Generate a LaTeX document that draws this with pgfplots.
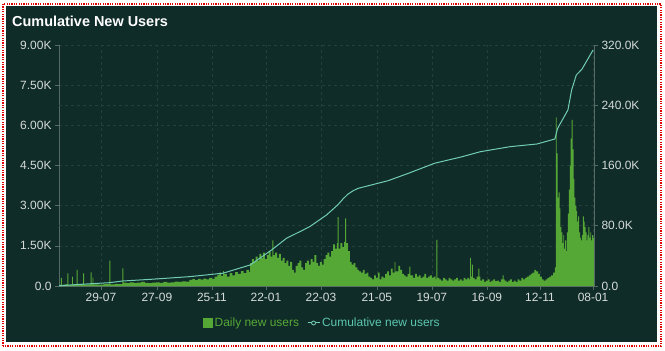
\documentclass[border=0pt]{standalone}
\usepackage{pgfplots}
\pgfplotsset{compat=1.18}
\usepackage{pgfplotstable}
\usepackage{fontspec}
\setmainfont{Liberation Sans}
\definecolor{bgcol}{HTML}{102C28}
\definecolor{barcol}{HTML}{56A836}
\definecolor{linecol}{HTML}{72CDB5}
\definecolor{legtxt}{HTML}{5CC6B0}
\definecolor{tickcol}{HTML}{D5DBD9}
\definecolor{gridcol}{HTML}{264039}
\definecolor{axcol}{HTML}{566A66}
\definecolor{bordercol}{HTML}{E00000}

\pgfplotstableread{
day users
0 40
2 300
3 40
6 60
9 470
10 40
14 350
15 50
19 600
20 50
23 70
26 470
27 50
30 60
34 510
35 60
36 310
37 60
42 50
48 70
54 950
55 60
60 80
64 70
68 660
69 130
72 110
76 140
80 120
84 130
88 150
92 120
96 110
100 130
104 140
108 120
112 150
116 130
120 140
124 160
128 150
132 170
136 160
140 230
143 260
146 220
149 270
152 240
155 280
158 250
161 300
164 270
167 350
170 420
172 500
174 380
176 560
177 450
180 350
183 480
186 400
189 520
192 450
195 560
198 480
201 600
204 520
205 850
207 1000
209 900
211 1100
213 950
215 1200
217 1050
219 1250
221 1000
223 1150
225 1300
227 1100
229 1700
230 1150
232 1250
234 1050
236 1200
238 950
240 1050
242 850
244 950
246 750
248 900
250 600
252 500
254 750
256 850
258 950
260 700
262 600
264 850
266 950
268 800
270 1000
272 900
274 1150
276 850
278 750
280 900
282 800
284 1000
286 1150
288 1250
290 1100
292 1300
294 1550
296 1400
298 1600
299 2570
300 1400
302 1600
304 1450
306 1650
307 2530
308 1600
310 1300
312 900
314 800
316 850
318 700
320 600
322 550
324 500
326 600
328 450
330 500
332 350
334 300
336 250
338 400
340 300
342 500
344 250
346 350
348 300
350 450
352 550
354 400
356 650
358 500
360 900
361 550
364 750
366 600
368 450
370 400
372 350
374 450
376 720
377 400
380 300
382 450
384 350
386 400
388 300
390 350
392 450
394 300
396 350
398 400
400 300
402 350
404 250
405 1720
406 300
408 250
410 200
412 300
414 250
416 200
418 300
420 250
422 200
424 250
426 300
428 200
430 250
432 200
434 300
436 250
438 300
440 250
441 1050
442 350
443 800
444 300
446 250
448 350
450 650
451 350
452 200
454 250
456 150
458 200
460 250
462 150
464 200
466 250
468 180
470 200
472 150
474 250
476 400
477 250
478 200
480 150
482 200
484 250
486 150
488 200
490 150
492 250
494 200
496 300
498 250
500 300
502 350
504 400
506 450
508 500
510 600
512 550
514 450
516 350
518 250
520 200
522 250
524 300
526 350
528 400
530 500
532 700
533 6300
534 4950
535 3300
536 3500
537 2900
538 2200
539 2000
540 1600
541 1900
542 1400
543 1700
544 1300
545 2000
546 2700
547 3600
548 4500
549 5500
550 6200
551 5100
552 4000
553 3300
554 3000
555 2800
556 2400
557 2600
558 2000
559 1800
560 1700
561 1900
562 2600
563 2400
564 2200
565 2000
566 1700
567 1900
568 2200
569 1800
570 2000
571 1700
572 1900
573 1800
574 1800
}\dailytable

\pgfplotstableread{
day total
0 300
20 2000
54 4400
68 6600
100 9000
140 12400
176 17000
205 27900
228 47800
244 63300
262 74400
269 78800
287 94300
299 107600
305 116000
310 122000
316 126800
321 129700
353 139800
375 149700
403 163000
432 171500
452 178300
484 185000
513 188600
532 195200
535 209400
541 222700
546 233700
550 260300
555 280200
561 287800
573 313400
}\cumtable

\begin{document}
\begin{tikzpicture}[x=1bp,y=1bp]
\useasboundingbox (0,0) rectangle (665,350);
\fill[white] (0,0) rectangle (665,350);
\fill[bgcol] (6,8) rectangle (657,344);
\draw[bordercol, dash pattern=on 1.2bp off 1.2bp, line width=1.2bp] (3,4) rectangle (661,346);
\node[anchor=base west, inner sep=0, text=white, font=\bfseries\fontsize{14.5}{16}\selectfont] at (12,324) {Cumulative New Users};

\begin{axis}[
  at={(59bp,64bp)}, anchor=south west,
  scale only axis, width=535bp, height=241bp,
  xmin=0, xmax=574, ymin=0, ymax=9000,
  axis x line*=bottom, axis y line*=left,
  axis line style={draw=axcol, line width=0.6bp},
  xtick={45,105,164,222,281,341,400,459,516,573},
  xticklabels={29-07,27-09,25-11,22-01,22-03,21-05,19-07,16-09,12-11,08-01},
  ytick={0,1500,3000,4500,6000,7500,9000},
  yticklabels={0.0,1.50K,3.00K,4.50K,6.00K,7.50K,9.00K},
  extra y ticks={2250,6750},
  extra y tick labels={},
  extra y tick style={major tick length=0pt},
  tick align=outside, major tick length=4bp,
  tick style={draw=axcol, line width=0.6bp},
  xmajorgrids, ymajorgrids,
  grid style={draw=gridcol, dashed, line width=0.6bp},
  /pgf/number format/assume math mode=true,
  every tick label/.append style={font=\fontsize{12}{14}\selectfont, text=tickcol},
  clip=true,
]
\addplot[const plot mark left, fill=barcol, draw=none] table[x=day, y=users] {\dailytable} \closedcycle;
\end{axis}

\begin{axis}[
  at={(59bp,64bp)}, anchor=south west,
  scale only axis, width=535bp, height=241bp,
  xmin=0, xmax=574, ymin=0, ymax=320000,
  axis x line=none, axis y line*=right,
  axis line style={draw=axcol, line width=0.6bp},
  ytick={0,80000,160000,240000,320000},
  yticklabels={0.0,80.0K,160.0K,240.0K,320.0K},
  scaled y ticks=false,
  tick align=outside, major tick length=4bp,
  tick style={draw=axcol, line width=0.6bp},
  /pgf/number format/assume math mode=true,
  every tick label/.append style={font=\fontsize{12}{14}\selectfont, text=tickcol},
  legend style={at={(0.4925,-0.1535)}, anchor=center, draw=none, fill=none,
    font=\fontsize{12}{14}\selectfont, legend columns=2,
    /tikz/every even column/.append style={column sep=6bp}},
]
\addlegendimage{legend image code/.code={\fill[barcol] (0bp,-4.5bp) rectangle (9bp,4.5bp);}}
\addlegendentry[text=barcol]{Daily new users}
\addplot[linecol, line width=1bp, no marks,
  legend image code/.code={\draw[linecol, line width=1bp] (0bp,0bp) -- (12bp,0bp); \draw[linecol, fill=bgcol, line width=0.8bp] (6bp,0bp) circle (2bp);}]
  table[x=day, y=total] {\cumtable};
\addlegendentry[text=legtxt]{Cumulative new users}
\end{axis}
\end{tikzpicture}
\end{document}
